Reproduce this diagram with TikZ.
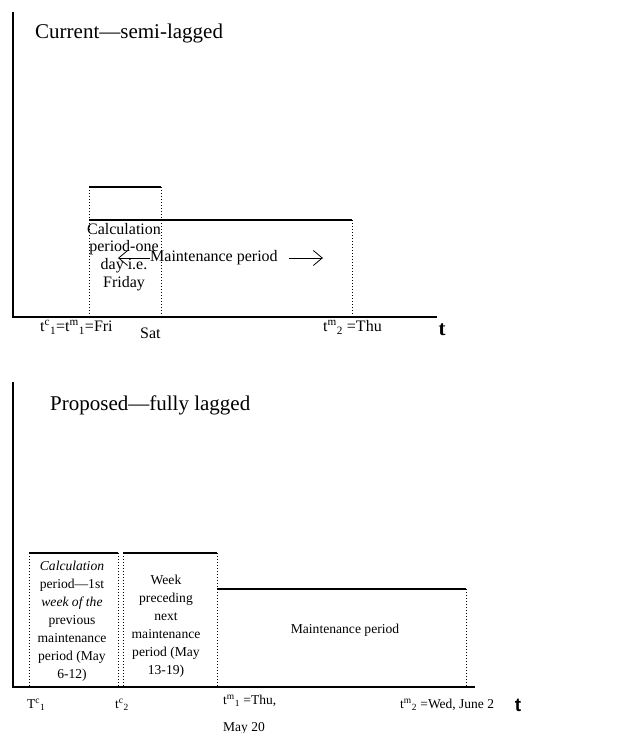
\documentclass[tikz,border=0pt]{standalone}
\usepackage{fontspec}
\setmainfont{Liberation Serif}
\newfontfamily\labelsans{Liberation Sans}
\usetikzlibrary{arrows.meta,positioning}

\begin{document}
\begin{tikzpicture}[
        x=1pt, y=-1pt,
        axis/.style={line width=2pt},
        period/.style={line width=1.6pt},
        edge/.style={dotted, line width=1pt},
        lbl/.style={font=\fontsize{16}{18}\selectfont, inner sep=0pt},
        smalllbl/.style={font=\fontsize{13.5}{15}\selectfont, inner sep=0pt},
        boxtext/.style={font=\fontsize{16}{17.8}\selectfont, align=center, inner sep=0pt},
        smallbox/.style={font=\fontsize{13.6}{18}\selectfont, align=center, inner sep=0pt},
        heading/.style={font=\fontsize{21}{24}\selectfont, anchor=west, inner sep=0pt},
        arrow/.style={-{Straight Barb[length=9pt,width=15pt]}, line width=0.8pt}
    ]
    \useasboundingbox (0,0) rectangle (627,733);

    % current: semi-lagged
    \coordinate (o1) at (13,317);
    \draw[axis] (13,12) -- (o1) -- (437,317);
    \node[heading] (cur) at (35,33) {Current---semi-lagged};
    \draw[period] (89,187) -- (161,187);
    \draw[period] (89,220) -- (352,220);
    \draw[edge] (89,187) -- (89,317);
    \draw[edge] (161,187) -- (161,317);
    \draw[edge] (352,220) -- (352,317);
    \node[boxtext] (calc1) at (124,257) {Calculation\\period-one\\day i.e.\\Friday};
    \node[boxtext, anchor=west] (maint1) at (150,258) {Maintenance period};
    \draw[arrow] (maint1.west) -- ++(-32,0);
    \draw[arrow] ([xshift=11pt]maint1.east) -- ++(34,0);
    \node[lbl, anchor=west] (tc1) at (40,327) {t\textsuperscript{c}\textsubscript{1}=t\textsuperscript{m}\textsubscript{1}=Fri};
    \node[lbl, anchor=west] (sat) at (140,333) {Sat};
    \node[lbl, anchor=west] (tm2) at (323,327) {t\textsuperscript{m}\textsubscript{2} =Thu};
    \node[font=\fontsize{21}{24}\selectfont\bfseries, inner sep=0pt] (t1) at (442,330) {t};

    % proposed: fully lagged
    \coordinate (o2) at (13,687);
    \draw[axis] (13,382) -- (o2) -- (475,687);
    \node[heading] (prop) at (50,405) {Proposed---fully lagged};
    \draw[period] (29,553) -- (118,553);
    \draw[period] (123,553) -- (217,553);
    \draw[period] (217,589) -- (466,589);
    \draw[edge] (29,553) -- (29,687);
    \draw[edge] (118,553) -- (118,687);
    \draw[edge] (123,553) -- (123,687);
    \draw[edge] (217,553) -- (217,687);
    \draw[edge] (466,589) -- (466,687);
    \node[smallbox] (calc2) at (72,621) {\textit{Calculation}\\period---1st\\\textit{week of the}\\previous\\maintenance\\period (May\\6-12)};
    \node[smallbox] (week) at (166,626) {Week\\preceding\\next\\maintenance\\period (May\\13-19)};
    \node[smallbox] (maint2) at (345,630) {Maintenance period};
    \node[smalllbl, anchor=west] (Tc1) at (27,705) {T\textsuperscript{c}\textsubscript{1}};
    \node[smalllbl, anchor=west] (tc2) at (115,705) {t\textsuperscript{c}\textsubscript{2}};
    \node[smalllbl, anchor=west] (tm1) at (223,701) {t\textsuperscript{m}\textsubscript{1} =Thu,};
    \node[smalllbl, anchor=west] (may) at (223,728) {May 20};
    \node[smalllbl, anchor=west] (tm2b) at (400,705) {t\textsuperscript{m}\textsubscript{2} =Wed, June 2};
    \node[font=\fontsize{19}{22}\selectfont\labelsans\bfseries, inner sep=0pt] (t2) at (518,705) {t};
\end{tikzpicture}
\end{document}
